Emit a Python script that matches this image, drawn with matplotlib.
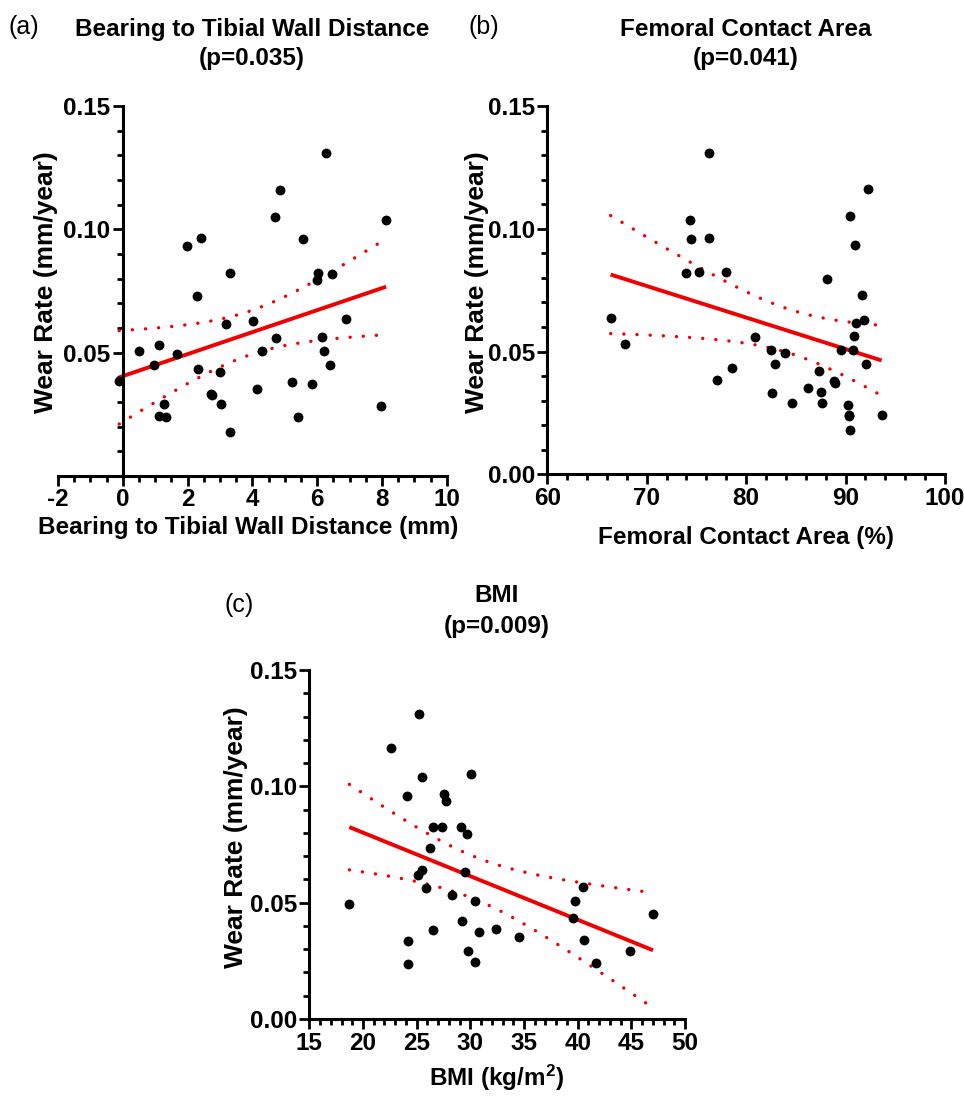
import numpy as np
import matplotlib
matplotlib.use("Agg")
import matplotlib.pyplot as plt
from matplotlib.ticker import MultipleLocator, FuncFormatter

# ---------------- data ----------------
# (a) bearing to tibial wall distance (mm) vs wear rate
dist_mm = [-0.11, 0.50, 0.98, 1.12, 1.12, 1.26, 1.34, 1.69, 1.98, 2.43, 2.28, 2.31, 2.73, 2.76,
           3.00, 3.03, 3.19, 3.31, 3.32, 4.03, 4.14, 4.30, 4.71, 4.74, 4.87, 5.23, 5.41, 5.56,
           5.85, 6.01, 6.04, 6.14, 6.26, 6.21, 6.47, 6.41, 6.88, 7.96, 8.13]
wear_a = [0.0385, 0.0508, 0.0451, 0.0531, 0.0242, 0.0292, 0.0239, 0.0493, 0.0934, 0.0963, 0.0731,
          0.0434, 0.0334, 0.0330, 0.0421, 0.0291, 0.0617, 0.0824, 0.0180, 0.0628, 0.0351, 0.0508,
          0.1052, 0.0561, 0.1161, 0.0381, 0.0238, 0.0959, 0.0372, 0.0794, 0.0824, 0.0565, 0.1309,
          0.0505, 0.0820, 0.0450, 0.0638, 0.0284, 0.1037]

# (b) femoral contact area (%) vs wear rate
contact_pct = [66.37, 67.84, 73.91, 74.31, 74.41, 75.22, 76.23, 76.26, 77.06, 77.94, 78.61, 80.89,
               82.53, 82.63, 82.90, 83.94, 84.57, 86.18, 87.29, 87.52, 87.66, 88.16, 88.86, 88.93,
               89.53, 90.20, 90.34, 90.37, 90.47, 90.47, 90.77, 90.87, 90.94, 91.01, 91.65, 91.88,
               92.01, 92.25, 93.62]
wear_b = [0.0638, 0.0531, 0.0820, 0.1037, 0.0958, 0.0824, 0.1309, 0.0962, 0.0384, 0.0824, 0.0433,
          0.0561, 0.0508, 0.0333, 0.0449, 0.0493, 0.0292, 0.0350, 0.0421, 0.0337, 0.0290, 0.0794,
          0.0380, 0.0372, 0.0508, 0.0284, 0.0242, 0.0239, 0.0179, 0.1052, 0.0505, 0.0565, 0.0934,
          0.0616, 0.0730, 0.0628, 0.0451, 0.1161, 0.0240]

# (c) BMI (kg/m2) vs wear rate
bmi = [18.73, 22.61, 24.07, 24.19, 24.16, 25.22, 25.50, 25.16, 25.50, 25.87, 26.24, 26.49, 26.49,
       27.39, 27.58, 27.73, 28.32, 29.16, 29.19, 29.53, 29.69, 29.81, 30.09, 30.47, 30.43, 30.78,
       32.39, 34.50, 39.53, 39.72, 40.47, 40.62, 41.68, 44.88, 47.02]
wear_c = [0.0494, 0.1163, 0.0960, 0.0334, 0.0238, 0.1309, 0.1039, 0.0617, 0.0639, 0.0563, 0.0734,
          0.0825, 0.0383, 0.0827, 0.0967, 0.0937, 0.0532, 0.0827, 0.0423, 0.0630, 0.0797, 0.0291,
          0.1054, 0.0509, 0.0244, 0.0372, 0.0385, 0.0351, 0.0436, 0.0506, 0.0567, 0.0338, 0.0241,
          0.0294, 0.0450]

titles = ["Bearing to Tibial Wall Distance", "Femoral Contact Area", "BMI"]
pvals = ["(p=0.035)", "(p=0.041)", "(p=0.009)"]
letters = ["(a)", "(b)", "(c)"]
xlabels = ["Bearing to Tibial Wall Distance (mm)", "Femoral Contact Area (%)", "BMI (kg/m$^{2}$)"]
ylabel = "Wear Rate (mm/year)"

# ---------------- style ----------------
FAM = ["Liberation Sans", "DejaVu Sans"]
plt.rcParams["font.family"] = FAM
plt.rcParams["font.weight"] = "bold"
plt.rcParams["mathtext.fontset"] = "custom"
plt.rcParams["mathtext.rm"] = "Liberation Sans:bold"
plt.rcParams["mathtext.it"] = "Liberation Sans:bold"
plt.rcParams["mathtext.bf"] = "Liberation Sans:bold"
FS = 17.5

W, H = 964, 1096
fig = plt.figure(figsize=(W / 100, H / 100), dpi=100)
fig.patch.set_facecolor("white")


def px_axes(x0, x1, ytop, ybot):
    return fig.add_axes([x0 / W, 1 - ybot / H, (x1 - x0) / W, (ybot - ytop) / H])


def ftext(x, y, s, **kw):
    fig.text(x / W, 1 - y / H, s, **kw)


def regression_band(ax, x, y, tcrit):
    x = np.asarray(x, float)
    y = np.asarray(y, float)
    n = len(x)
    slope, icpt = np.polyfit(x, y, 1)
    xs = np.linspace(x.min(), x.max(), 200)
    yfit = icpt + slope * xs
    resid = y - (icpt + slope * x)
    s = np.sqrt(np.sum(resid ** 2) / (n - 2))
    sxx = np.sum((x - x.mean()) ** 2)
    se = s * np.sqrt(1.0 / n + (xs - x.mean()) ** 2 / sxx)
    ax.plot(xs, yfit, color="#f00000", lw=2.8, solid_capstyle="butt", zorder=2)
    for sign in (1, -1):
        ax.plot(xs, yfit + sign * tcrit * se, color="#f00000", lw=2.4,
                linestyle=(0, (0.05, 3.9)), dash_capstyle="round", zorder=2)


def style_axes(ax, xmin, xmax, xmaj, xmin_step, hide_zero):
    ax.set_xlim(xmin, xmax)
    ax.set_ylim(0, 0.15)
    for sp in ("top", "right"):
        ax.spines[sp].set_visible(False)
    for sp in ("left", "bottom"):
        ax.spines[sp].set_linewidth(2.2)
    ax.xaxis.set_major_locator(MultipleLocator(xmaj))
    ax.xaxis.set_minor_locator(MultipleLocator(xmin_step))
    ax.yaxis.set_major_locator(MultipleLocator(0.05))
    ax.yaxis.set_minor_locator(MultipleLocator(0.01))
    ax.tick_params(which="major", length=7.5, width=2.0, direction="out", labelsize=FS, pad=1.5)
    ax.tick_params(which="minor", length=4.5, width=2.0, direction="out")
    if hide_zero:
        ax.yaxis.set_major_formatter(FuncFormatter(lambda v, p: "" if abs(v) < 1e-9 else f"{v:.2f}"))
    else:
        ax.yaxis.set_major_formatter(FuncFormatter(lambda v, p: f"{v:.2f}"))
    ax.xaxis.set_major_formatter(FuncFormatter(lambda v, p: f"{v:.0f}"))
    ax.patch.set_alpha(0)


MS = 50

# ---------------- panel (a) ----------------
axa = px_axes(57.9, 446.7, 106, 476)
style_axes(axa, -2, 10, 2, 0.5, True)
axa.spines["left"].set_position(("data", 0))
axa.scatter(dist_mm, wear_a, s=MS, color="black", zorder=3, linewidths=0)
regression_band(axa, dist_mm, wear_a, 2.026)

# ---------------- panel (b) ----------------
axb = px_axes(547.3, 945.0, 106, 474.3)
style_axes(axb, 60, 100, 10, 2, False)
axb.scatter(contact_pct, wear_b, s=MS, color="black", zorder=3, linewidths=0)
regression_band(axb, contact_pct, wear_b, 2.026)

# ---------------- panel (c) ----------------
axc = px_axes(309.3, 685.0, 670, 1019)
style_axes(axc, 15, 50, 5, 1, False)
axc.scatter(bmi, wear_c, s=MS, color="black", zorder=3, linewidths=0)
regression_band(axc, bmi, wear_c, 2.035)

# ---------------- texts ----------------
tk = dict(fontsize=FS, fontweight="bold", ha="center", va="baseline")
lk = dict(fontsize=FS + 0.5, fontweight="normal", ha="left", va="baseline")

# titles
ftext(252, 36, titles[0], **tk)
ftext(252, 65, pvals[0], **tk)
ftext(746, 36, titles[1], **tk)
ftext(746, 65, pvals[1], **tk)
ftext(497, 602, titles[2], **tk)
ftext(497, 633, pvals[2], **tk)

# panel letters
ftext(8, 34, letters[0], **lk)
ftext(468, 34, letters[1], **lk)
ftext(225, 612, letters[2], **lk)

# x labels
ftext(248, 534, xlabels[0], **tk)
ftext(746, 544, xlabels[1], **tk)
ftext(497, 1086, xlabels[2], **tk)

# y labels
yk = dict(fontsize=19, fontweight="bold", ha="center", va="center", rotation=90)
ftext(46, 282, ylabel, **yk)
ftext(477, 282, ylabel, **yk)
ftext(236, 837, ylabel, **yk)

fig.savefig("out.png", dpi=100, facecolor="white")
